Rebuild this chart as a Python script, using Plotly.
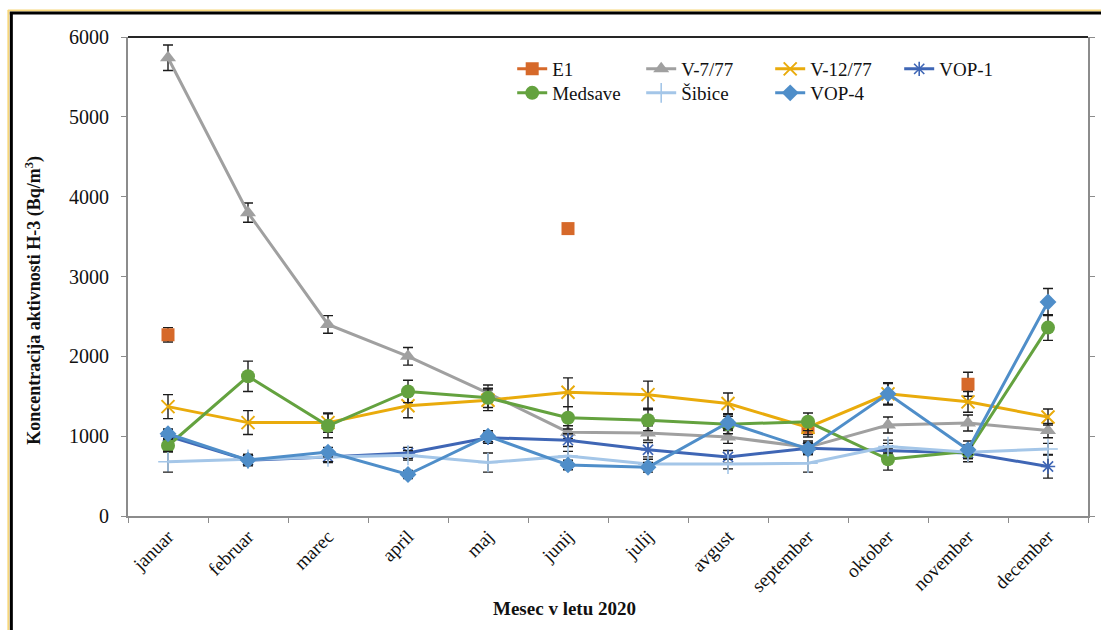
import plotly.graph_objects as go

# Monthly H-3 activity concentrations (Bq/m3) with measurement uncertainty
months = ["januar", "februar", "marec", "april", "maj", "junij", "julij",
          "avgust", "september", "oktober", "november", "december"]

e1 = [2270, None, None, None, None, 3600, None, None, 1110, None, 1650, None]
e1_err = [90, None, None, None, None, None, None, None, 90, None, 150, None]

v7 = [5740, 3800, 2400, 2000, 1540, 1050, 1040, 990, 860, 1140, 1165, 1070]
v7_err = [160, 120, 110, 110, 100, 80, 90, 80, 80, 100, 100, 90]

v12 = [1370, 1170, 1170, 1380, 1450, 1550, 1520, 1410, 1110, 1530, 1430, 1240]
v12_err = [150, 150, 120, 150, 130, 180, 170, 130, 120, 130, 130, 100]

vop1 = [1000, 700, 740, 790, 980, 950, 830, 740, 850, 820, 790, 620]
vop1_err = [80, 70, 70, 70, 70, 80, 90, 80, 70, 90, 70, 145]

medsave = [880, 1750, 1130, 1560, 1480, 1230, 1200, 1150, 1180, 710, 810, 2360]
medsave_err = [80, 190, 150, 140, 120, 140, 130, 120, 110, 135, 130, 160]

sibice = [680, 710, 740, 760, 670, 750, 650, 650, 660, 870, 800, 840]
sibice_err = [130, 60, 60, 60, 120, 60, 60, 60, 110, 80, 80, 70]

vop4 = [1030, 700, 800, 520, 1000, 640, 610, 1170, 840, 1530, 830, 2680]
vop4_err = [60, 60, 60, 50, 70, 60, 60, 80, 70, 140, 60, 170]

FONT = "Liberation Serif, Times New Roman, serif"
ERR_COLOR = "#1c1c1c"

# (name, values, errors, colour, marker, legend row)
series = [
    ("E1", e1, e1_err, "#d6692a", dict(symbol="square", size=13), "legend"),
    ("V-7/77", v7, v7_err, "#a0a0a0", dict(symbol="triangle-up", size=14), "legend"),
    ("V-12/77", v12, v12_err, "#e9ab0c",
     dict(symbol="x-thin", size=13, line=dict(width=2, color="#e9ab0c")), "legend"),
    ("VOP-1", vop1, vop1_err, "#3f66b5",
     dict(symbol="asterisk", size=12, line=dict(width=1.6, color="#3f66b5")), "legend"),
    ("Medsave", medsave, medsave_err, "#64a23f", dict(symbol="circle", size=14), "legend2"),
    ("Šibice", sibice, sibice_err, "#a4c6e8",
     dict(symbol="cross-thin", size=14, line=dict(width=1.6, color="#a4c6e8")), "legend2"),
    ("VOP-4", vop4, vop4_err, "#4f8ec9", dict(symbol="diamond", size=13), "legend2"),
]

fig = go.Figure()
for name, vals, errs, color, marker, leg in series:
    fig.add_trace(go.Scatter(
        x=months, y=vals, name=name, mode="lines+markers",
        connectgaps=False, legend=leg,
        line=dict(color=color, width=3),
        marker=dict(color=color, **marker),
        error_y=dict(type="data", array=errs, visible=True,
                     color=ERR_COLOR, thickness=1.4, width=5),
    ))

# plot area in pixels: left 128, right 1095, top 37, bottom 516
L, R, T, B = 128, 1095, 37, 516


def px(x):
    return (x - L) / (R - L)


def py(y):
    return (B - y) / (B - T)


shapes = [
    # top border of the plot area
    dict(type="line", xref="paper", yref="paper", x0=0, x1=1, y0=1, y1=1,
         line=dict(color="#262626", width=2)),
    # outer frame: yellow edge with a black line inside
    dict(type="line", xref="paper", yref="paper", x0=px(7.5), x1=px(7.5),
         y0=py(10), y1=py(700), line=dict(color="#f8d77c", width=2)),
    dict(type="line", xref="paper", yref="paper", x0=px(7), x1=px(1200),
         y0=py(10.5), y1=py(10.5), line=dict(color="#f8d77c", width=2)),
    dict(type="line", xref="paper", yref="paper", x0=px(10.5), x1=px(10.5),
         y0=py(12), y1=py(700), line=dict(color="#000000", width=3)),
    dict(type="line", xref="paper", yref="paper", x0=px(9), x1=px(1200),
         y0=py(13), y1=py(13), line=dict(color="#000000", width=3)),
]

legend_style = dict(
    orientation="h", xanchor="left", yanchor="top",
    entrywidth=84, entrywidthmode="pixels",
    font=dict(family=FONT, size=19, color="#111111"),
    bgcolor="rgba(0,0,0,0)",
)

fig.update_layout(
    width=1101, height=630,
    margin=dict(l=L, r=1101 - R, t=T, b=630 - B),
    paper_bgcolor="white", plot_bgcolor="white",
    font=dict(family=FONT, size=19, color="#111111"),
    showlegend=True,
    legend=dict(x=px(515), y=py(50), **legend_style),
    legend2=dict(x=px(515), y=py(74), **legend_style),
    xaxis=dict(
        type="category", categoryorder="array", categoryarray=months,
        range=[-0.5, 11.5],
        showline=True, linecolor="#8c8c8c", linewidth=2,
        ticks="outside", tickson="boundaries", ticklen=5, tickcolor="#8c8c8c",
        tickangle=-45, showgrid=False, zeroline=False,
        tickfont=dict(family=FONT, size=19, color="#111111"),
    ),
    yaxis=dict(
        range=[0, 6000], dtick=1000, tick0=0,
        showline=True, linecolor="#8c8c8c", linewidth=2, mirror="ticks",
        ticks="outside", ticklen=5, tickcolor="#8c8c8c",
        showgrid=False, zeroline=False, ticklabelstandoff=8,
        tickfont=dict(family=FONT, size=20, color="#111111"),
    ),
    shapes=shapes,
    annotations=[
        dict(text="<b>Koncentracija aktivnosti H-3 (Bq/m<sup>3</sup>)</b>",
             xref="paper", yref="paper", x=px(33), y=py(300), textangle=-90,
             showarrow=False, xanchor="center", yanchor="middle",
             font=dict(family=FONT, size=18, color="#111111")),
        dict(text="<b>Mesec v letu 2020</b>",
             xref="paper", yref="paper", x=px(568), y=py(608),
             showarrow=False, xanchor="center", yanchor="middle",
             font=dict(family=FONT, size=19, color="#111111")),
    ],
)

fig.write_html("out.html")
